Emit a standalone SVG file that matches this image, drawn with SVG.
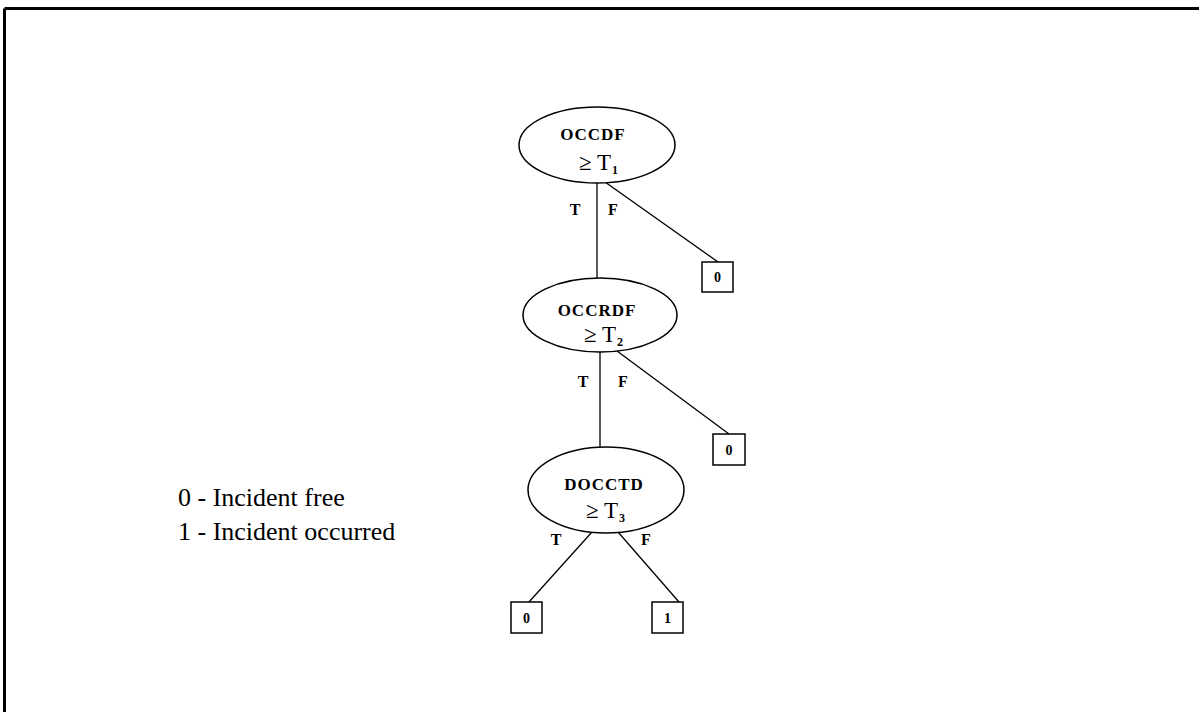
<svg xmlns="http://www.w3.org/2000/svg" width="1199" height="712" viewBox="0 0 1199 712">
<style>
.node ellipse{fill:#fff;stroke:#000;stroke-width:1.5}
.leaf rect{fill:#fff;stroke:#000;stroke-width:1.5}
.conn line{stroke:#000;stroke-width:1.3}
.nm{font-family:"Liberation Serif",serif;font-weight:bold;font-size:17px;text-anchor:middle;letter-spacing:1px}
.th{font-family:"Liberation Serif",serif;font-size:23px}
.sub{font-family:"Liberation Serif",serif;font-weight:bold;font-size:12px}
.lbl{font-family:"Liberation Serif",serif;font-weight:bold;font-size:16px;text-anchor:middle}
.val{font-family:"Liberation Serif",serif;font-weight:bold;font-size:14px;text-anchor:middle}
.leg{font-family:"Liberation Serif",serif;font-size:26px;letter-spacing:0px}
</style>
<rect width="1199" height="712" fill="#fff"/>
<g id="frame"><line x1="4.5" y1="8.5" x2="1199" y2="8.5" stroke="#000" stroke-width="3"/><line x1="4.5" y1="8.5" x2="4.5" y2="712" stroke="#000" stroke-width="3"/></g>
<g id="connectors" class="conn">
<line x1="597" y1="183" x2="597" y2="278"/>
<line x1="605" y1="182" x2="718" y2="262"/>
<line x1="600" y1="352" x2="600" y2="447"/>
<line x1="617" y1="351" x2="729" y2="434"/>
<line x1="592" y1="532" x2="529" y2="602"/>
<line x1="618" y1="532" x2="679" y2="602"/>
<text class="lbl" x="575" y="215">T</text>
<text class="lbl" x="613" y="215">F</text>
<text class="lbl" x="583" y="387">T</text>
<text class="lbl" x="623" y="387">F</text>
<text class="lbl" x="556" y="545">T</text>
<text class="lbl" x="646" y="545">F</text>
</g>
<g id="n1" class="node">
<ellipse cx="597" cy="145" rx="78" ry="38"/>
<text class="nm" x="593" y="140">OCCDF</text>
<text class="th" x="579" y="170">≥ T</text><text class="sub" x="612" y="174">1</text>
</g>
<g id="n2" class="node">
<ellipse cx="600" cy="315" rx="77" ry="37"/>
<text class="nm" x="597" y="316">OCCRDF</text>
<text class="th" x="584" y="342">≥ T</text><text class="sub" x="617" y="346">2</text>
</g>
<g id="n3" class="node">
<ellipse cx="606" cy="490" rx="78" ry="43"/>
<text class="nm" x="604" y="490">DOCCTD</text>
<text class="th" x="586" y="518">≥ T</text><text class="sub" x="619" y="522">3</text>
</g>
<g id="l1" class="leaf"><rect x="702" y="262" width="31" height="30"/><text class="val" x="717.5" y="282">0</text></g>
<g id="l2" class="leaf"><rect x="713" y="434" width="32" height="31"/><text class="val" x="729" y="455">0</text></g>
<g id="l3" class="leaf"><rect x="511" y="602" width="31" height="31"/><text class="val" x="526.5" y="623">0</text></g>
<g id="l4" class="leaf"><rect x="652" y="602" width="31" height="31"/><text class="val" x="667.5" y="623">1</text></g>
<g id="legend">
<text class="leg" x="178" y="506">0 - Incident free</text>
<text class="leg" x="178" y="540">1 - Incident occurred</text>
</g>
</svg>
